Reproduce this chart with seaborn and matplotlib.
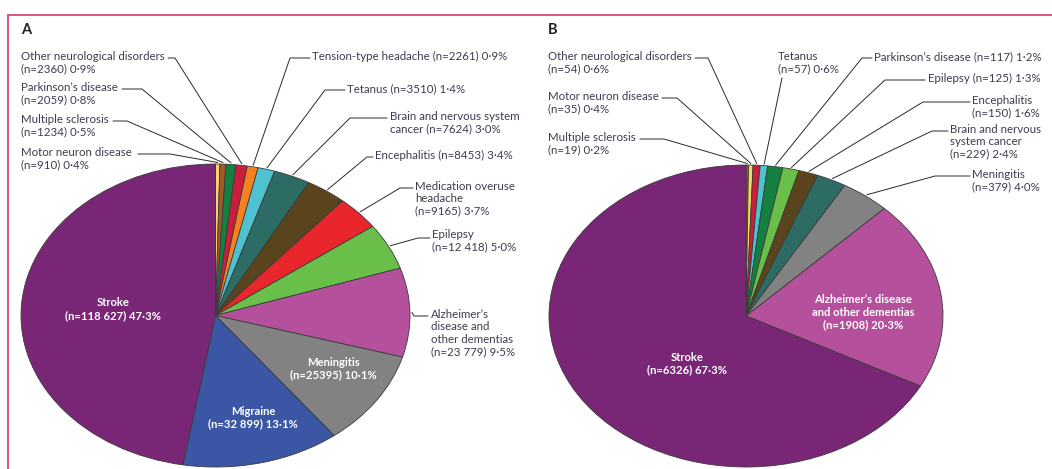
import matplotlib
matplotlib.use("Agg")
import matplotlib.pyplot as plt
import seaborn as sns
import numpy as np
from matplotlib.lines import Line2D

W, H = 1052, 469

# Panel A: all deaths (clockwise from 12 o'clock)
a_names = ["Motor neuron disease", "Multiple sclerosis", "Parkinson’s disease",
           "Other neurological disorders", "Tension-type headache", "Tetanus",
           "Brain and nervous system cancer", "Encephalitis", "Medication overuse headache",
           "Epilepsy", "Alzheimer’s disease and other dementias", "Meningitis", "Migraine", "Stroke"]
a_counts = [910, 1234, 2059, 2360, 2261, 3510, 7624, 8453, 9165, 12418, 23779, 25395, 32899, 118627]
a_labels = ["Motor neuron disease\n(n=910) 0·4%",
            "Multiple sclerosis\n(n=1234) 0·5%",
            "Parkinson’s disease\n(n=2059) 0·8%",
            "Other neurological disorders\n(n=2360) 0·9%",
            "Tension-type headache (n=2261) 0·9%",
            "Tetanus (n=3510) 1·4%",
            "Brain and nervous system\ncancer (n=7624) 3·0%",
            "Encephalitis (n=8453) 3·4%",
            "Medication overuse\nheadache\n(n=9165) 3·7%",
            "Epilepsy\n(n=12 418) 5·0%",
            "Alzheimer’s\ndisease and\nother dementias\n(n=23 779) 9·5%",
            "Meningitis\n(n=25395) 10·1%",
            "Migraine\n(n=32 899) 13·1%",
            "Stroke\n(n=118 627) 47·3%"]

# Panel B
b_names = ["Multiple sclerosis", "Motor neuron disease", "Other neurological disorders", "Tetanus",
           "Parkinson’s disease", "Epilepsy", "Encephalitis", "Brain and nervous system cancer",
           "Meningitis", "Alzheimer’s disease and other dementias", "Stroke"]
b_counts = [19, 35, 54, 57, 117, 125, 150, 229, 379, 1908, 6326]
b_labels = ["Multiple sclerosis\n(n=19) 0·2%",
            "Motor neuron disease\n(n=35) 0·4%",
            "Other neurological disorders\n(n=54) 0·6%",
            "Tetanus\n(n=57) 0·6%",
            "Parkinson’s disease (n=117) 1·2%",
            "Epilepsy (n=125) 1·3%",
            "Encephalitis\n(n=150) 1·6%",
            "Brain and nervous\nsystem cancer\n(n=229) 2·4%",
            "Meningitis\n(n=379) 4·0%",
            "Alzheimer’s disease\nand other dementias\n(n=1908) 20·3%",
            "Stroke\n(n=6326) 67·3%"]

colours = {
    "Motor neuron disease": "#f6d469", "Multiple sclerosis": "#a2582c",
    "Parkinson’s disease": "#14803f", "Other neurological disorders": "#c91f3c",
    "Tension-type headache": "#f5821f", "Tetanus": "#4fc2d2",
    "Brain and nervous system cancer": "#2d6b65", "Encephalitis": "#5a441d",
    "Medication overuse headache": "#e8262b", "Epilepsy": "#6abf4a",
    "Alzheimer’s disease and other dementias": "#b5519c", "Meningitis": "#828282",
    "Migraine": "#3b56a5", "Stroke": "#7a2677",
}

# label layout in reference pixels: (text x, first line y, line start x, elbow x, line y)
a_layout = [(21, 154, 138, 170, 154), (21, 121, 113, 127, 121), (21, 89, 122, 142, 89),
            (21, 58, 168, 175, 58), (312, 58, 310, 290, 58), (347, 90, 345, 325, 90),
            (390, 118, 387, 350, 118), (375, 157, 373, 367, 157), (415, 188, 413, 400, 188),
            (432, 236, 430, 418, 238), (431, 316, 428, 414, 316)]
a_inside = [(333, 368.5), (253, 417.5), (113, 309)]
b_layout = [(548, 139, 640, 664, 139), (548, 98, 662, 677, 98), (548, 58, 695, 708, 58),
            (778, 58, 782, 782, 78), (874, 58, 872, 862, 58), (928, 80, 925, 885, 80),
            (972, 102, 970, 923, 102), (950, 131, 948, 932, 131), (972, 176, 970, 935, 176)]
b_inside = [(863, 312), (687, 363.5)]

sns.set_theme(style="white")
plt.rcParams["font.family"] = ["Lato", "DejaVu Sans"]
txt_col = "#3d3c50"
fig = plt.figure(figsize=(W / 100, H / 100), dpi=100)


def fx(x, y):
    return x / W, 1 - y / H


def draw_panel(names, counts, labels, layout, inside, cx, cy, rx, ry, letter, lx):
    ax = fig.add_axes([(cx - rx) / W, (H - cy - ry) / H, 2 * rx / W, 2 * ry / H])
    wedges, _ = ax.pie(counts, colors=[colours[n] for n in names], startangle=90,
                       counterclock=False, radius=1,
                       wedgeprops=dict(edgecolor="#3a3a3a", linewidth=0.6))
    ax.set_aspect("auto")
    ax.set_xlim(-1, 1)
    ax.set_ylim(-1, 1)
    ax.axis("off")
    fig.canvas.draw()
    to_fig = ax.transData + fig.transFigure.inverted()
    for w, lab, (tx, ty, sx, ex, ly) in zip(wedges, labels, layout):
        ang = np.deg2rad((w.theta1 + w.theta2) / 2)
        p = to_fig.transform((np.cos(ang) * 1.01, np.sin(ang) * 1.01))
        xs = [sx / W, ex / W, p[0]]
        ys = [1 - ly / H, 1 - ly / H, p[1]]
        fig.add_artist(Line2D(xs, ys, transform=fig.transFigure, color="#2a2a2a", lw=0.7))
        fig.text(*fx(tx, ty - 7), lab, ha="left", va="top", fontsize=8.3,
                 color=txt_col, linespacing=1.15)
    n_out = len(layout)
    for lab, (tx, ty) in zip(labels[n_out:], inside):
        fig.text(*fx(tx, ty), lab, ha="center", va="center", multialignment="center",
                 fontsize=8.1, color="white", fontweight="bold", linespacing=1.17)
    fig.text(*fx(lx, 30), letter, ha="left", va="center", fontsize=10.5,
             fontweight="bold", color="#222222")


draw_panel(a_names, a_counts, a_labels, a_layout, a_inside, 215.5, 315.5, 194.5, 151.5, "A", 21)
draw_panel(b_names, b_counts, b_labels, b_layout, b_inside, 746, 316, 197, 151, "B", 548)

# frame lines
frame = "#d5386a"
fig.add_artist(Line2D([8 / W, 1], [1 - 15 / H, 1 - 15 / H], transform=fig.transFigure, color=frame, lw=1.2))
fig.add_artist(Line2D([8 / W, 8 / W], [1 - 15 / H, 0], transform=fig.transFigure, color=frame, lw=1.2))

fig.savefig("out.png", dpi=100)
